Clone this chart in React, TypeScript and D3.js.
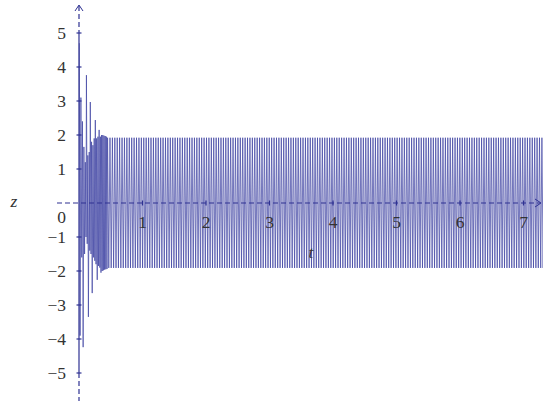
import React from "react";
import * as d3 from "d3";

// ---- data ----
// transient extremes (t, z)
const transientT = [0.005, 0.017, 0.030, 0.043, 0.054, 0.065, 0.077, 0.088, 0.099, 0.110, 0.117, 0.129, 0.139, 0.148, 0.161, 0.170, 0.178, 0.189, 0.198, 0.208, 0.219, 0.230, 0.239, 0.249, 0.257, 0.268, 0.277, 0.287, 0.298, 0.307, 0.317, 0.328, 0.337, 0.346, 0.356, 0.365, 0.375, 0.384, 0.394, 0.403, 0.413, 0.422, 0.431, 0.441];
const transientZ = [4.7, -3.9, 3.1, -1.6, 2.4, -4.24, 1.65, -1.5, 1.2, -1.0, 3.76, -1.2, 1.4, -3.35, 1.5, -1.4, 2.97, -1.5, 1.8, -2.65, 1.7, -1.6, 1.9, -1.7, 2.44, -1.8, 1.9, -2.26, 1.95, -1.85, 2.15, -1.9, 1.95, -2.05, 2.0, -2.0, 2.0, -1.98, 1.98, -1.96, 1.97, -1.95, 1.95, -1.94];
// steady oscillation band
const steadyUpper = 1.92;
const steadyLower = -1.91;
const steadyHalfPeriod = 0.019;
const steadyStart = 0.45;
const steadyEnd = 7.6;

const yTicks = [-5, -4, -3, -2, -1, 1, 2, 3, 4, 5];
const xTicks = [1, 2, 3, 4, 5, 6, 7];

const W = 543;
const H = 401;

export default function App() {
  const x = d3.scaleLinear().domain([0, 7]).range([79, 523.5]);
  const y = d3.scaleLinear().domain([-5, 5]).range([373, 33]);

  const pts: [number, number][] = transientT.map((t, i) => [t, transientZ[i]]);
  let k = 0;
  for (let t = steadyStart; t <= steadyEnd; t += steadyHalfPeriod) {
    pts.push([t, k % 2 === 0 ? steadyUpper : steadyLower]);
    k++;
  }
  const line = d3
    .line<[number, number]>()
    .x((d) => x(d[0]))
    .y((d) => y(d[1]));

  const axisColor = "#2e3192";
  const textColor = "#333333";
  const font = "'Liberation Serif', 'Times New Roman', 'DejaVu Serif', serif";
  const x0 = x(0);
  const y0 = y(0);
  const ts = { fontFamily: font, fontSize: "17.5px" };

  return (
    <svg
      width={W}
      height={H}
      style={{ position: "absolute", left: 0, top: 0, background: "#fff" }}
    >
      <defs>
        <clipPath id="clip">
          <rect x={0} y={0} width={W} height={H} />
        </clipPath>
      </defs>
      {/* data */}
      <path
        d={line(pts) || ""}
        fill="none"
        stroke="#4145a3"
        strokeOpacity={0.72}
        strokeWidth={1}
        clipPath="url(#clip)"
      />
      {/* x axis (dashed) */}
      <line x1={57} x2={540} y1={y0} y2={y0} stroke={axisColor} strokeWidth={1.2} strokeDasharray="5,3" />
      <path d={`M${535},${y0 - 4} L${541},${y0} L${535},${y0 + 4}`} fill="none" stroke={axisColor} strokeWidth={1} />
      {/* y axis */}
      <line x1={x0} x2={x0} y1={y(5)} y2={y(-5)} stroke={axisColor} strokeWidth={1.2} />
      <line x1={x0} x2={x0} y1={6} y2={y(5)} stroke={axisColor} strokeWidth={1.2} strokeDasharray="5,3" />
      <line x1={x0} x2={x0} y1={y(-5)} y2={H} stroke={axisColor} strokeWidth={1.2} strokeDasharray="5,3" />
      <path d={`M${x0 - 4},${11} L${x0},${5} L${x0 + 4},${11}`} fill="none" stroke={axisColor} strokeWidth={1} />
      {/* y ticks */}
      {yTicks.map((v) => (
        <g key={"y" + v}>
          <line x1={x0 - 2.5} x2={x0 + 2.5} y1={y(v)} y2={y(v)} stroke={axisColor} strokeWidth={1.2} />
          <text x={66} y={y(v) + 6} textAnchor="end" style={ts} fill={textColor}>
            {v < 0 ? "\u2212" + Math.abs(v) : String(v)}
          </text>
        </g>
      ))}
      <text x={66} y={y0 + 20} textAnchor="end" style={ts} fill={textColor}>0</text>
      {/* x ticks */}
      {xTicks.map((v) => (
        <g key={"x" + v}>
          <line x1={x(v)} x2={x(v)} y1={y0 - 2.5} y2={y0 + 2.5} stroke={axisColor} strokeWidth={1.2} />
          <text x={x(v)} y={y0 + 25} textAnchor="middle" style={ts} fill={textColor}>
            {String(v)}
          </text>
        </g>
      ))}
      {/* axis titles */}
      <text x={14} y={y0 + 4} textAnchor="middle" style={{ ...ts, fontStyle: "italic" }} fill={textColor}>z</text>
      <text x={311} y={y0 + 55} textAnchor="middle" style={{ ...ts, fontStyle: "italic" }} fill={textColor}>t</text>
    </svg>
  );
}
